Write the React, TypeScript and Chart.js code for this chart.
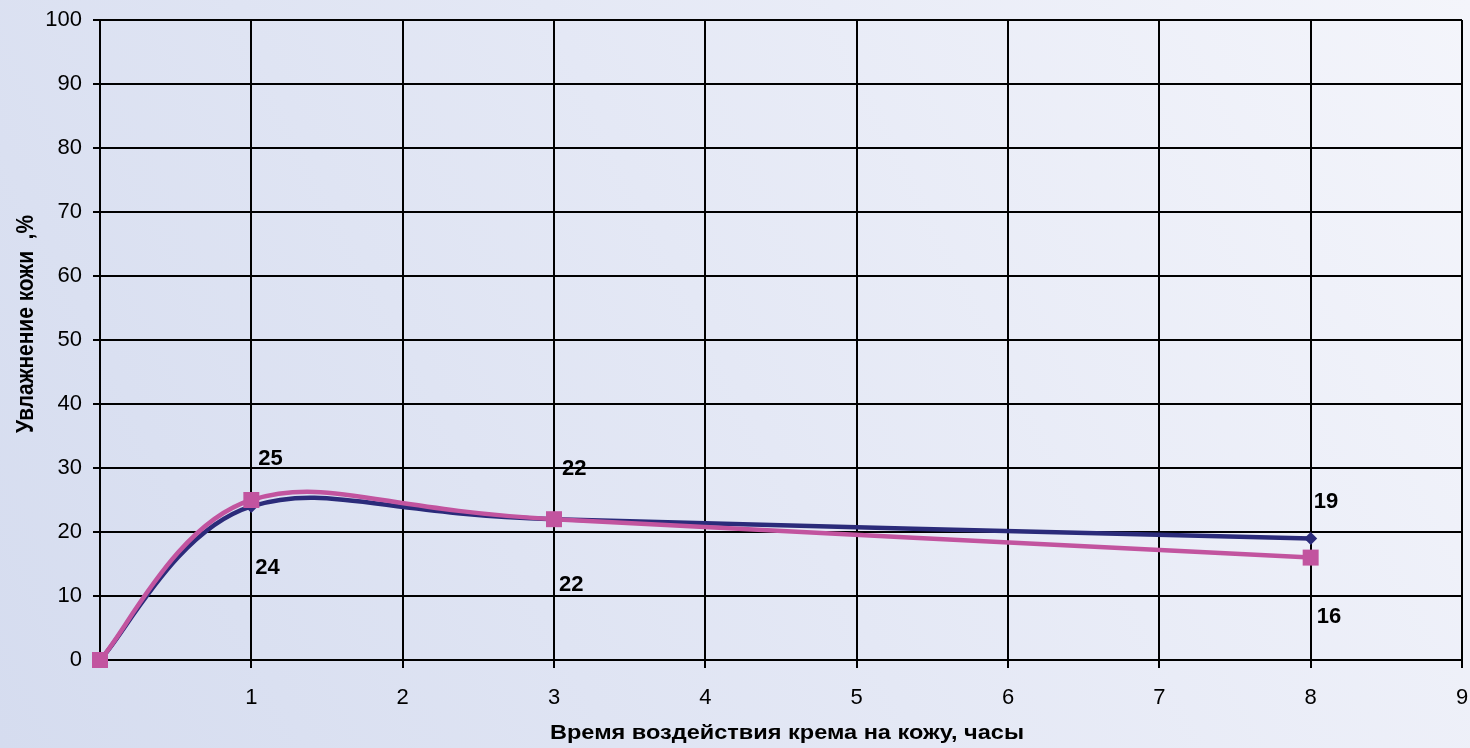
import React, { useEffect, useRef } from "react";
import { Chart, registerables } from "chart.js";

Chart.register(...registerables);

// ---- data ----
const hours = [0, 1, 3, 8];
const seriesA = [0, 24, 22, 19]; // navy, diamonds
const seriesB = [0, 25, 22, 16]; // pink, squares
const xTickMax = 9;
const yTickMax = 100;
const xTitle = "Время воздействия крема на кожу, часы";
const yTitle = "Увлажнение кожи  ,%";

// label placement (style): pixel offsets relative to each point, null = no label
const labelOffsetsA: (number[] | null)[] = [null, [4, 62], [5, 66], [3, -36]];
const labelOffsetsB: (number[] | null)[] = [null, [7, -41], [8, -50], [6, 59]];

const FONT = "'Liberation Sans', Arial, sans-serif";

const bgPlugin = {
  id: "bg",
  beforeDraw(chart: any) {
    const { ctx, width, height } = chart;
    const g = ctx.createLinearGradient(0, height, width, 0);
    g.addColorStop(0, "#d5dcef");
    g.addColorStop(0.5, "#e4e8f5");
    g.addColorStop(1, "#f4f5fb");
    ctx.save();
    ctx.fillStyle = g;
    ctx.fillRect(0, 0, width, height);
    ctx.restore();
  },
};

// Excel-like smoothing: Catmull-Rom control points (1/6 of neighbour chord) in pixel space
const smoothPlugin = {
  id: "excelSmooth",
  beforeDatasetDraw(chart: any, args: any) {
    const meta = chart.getDatasetMeta(args.index);
    const line = meta.dataset;
    if (line && line.updateControlPoints) line.updateControlPoints(chart.chartArea, "x");
    const pts = meta.data;
    const n = pts.length;
    for (let i = 0; i < n; i++) {
      const p = pts[i];
      const prev = pts[Math.max(0, i - 1)];
      const next = pts[Math.min(n - 1, i + 1)];
      const dx = (next.x - prev.x) / 6;
      const dy = (next.y - prev.y) / 6;
      p.cp1x = p.x - dx;
      p.cp1y = p.y - dy;
      p.cp2x = p.x + dx;
      p.cp2y = p.y + dy;
    }
    if (line) line._path = undefined;
  },
};

const labelPlugin = {
  id: "valLabels",
  afterDatasetsDraw(chart: any) {
    const { ctx } = chart;
    ctx.save();
    ctx.font = `bold 22px ${FONT}`;
    ctx.fillStyle = "#000";
    ctx.textAlign = "left";
    ctx.textBaseline = "middle";
    chart.data.datasets.forEach((ds: any, di: number) => {
      const meta = chart.getDatasetMeta(di);
      const offs = ds.labelOffsets as (number[] | null)[];
      meta.data.forEach((pt: any, i: number) => {
        const o = offs[i];
        if (!o) return;
        ctx.fillText(String(ds.data[i].y), pt.x + o[0], pt.y + o[1]);
      });
    });
    ctx.restore();
  },
};

// axis titles (drawn slightly stretched, as in the source picture)
const titlePlugin = {
  id: "axisTitles",
  afterDraw(chart: any) {
    const { ctx, chartArea } = chart;
    ctx.save();
    ctx.fillStyle = "#000";
    ctx.font = `bold 20px ${FONT}`;
    ctx.textAlign = "center";
    ctx.textBaseline = "alphabetic";
    // x title
    const wx = ctx.measureText(xTitle).width;
    ctx.save();
    ctx.translate((chartArea.left + chartArea.right) / 2 + 6, 739);
    ctx.scale(474 / wx, 1);
    ctx.fillText(xTitle, 0, 0);
    ctx.restore();
    // y title
    const wy = ctx.measureText(yTitle).width;
    ctx.save();
    ctx.translate(33, 324);
    ctx.rotate(-Math.PI / 2);
    ctx.scale(218 / wy, 1.2);
    ctx.fillText(yTitle, 0, 0);
    ctx.restore();
    ctx.restore();
  },
};

export default function App() {
  const ref = useRef<HTMLCanvasElement>(null);
  useEffect(() => {
    document.body.style.margin = "0";
    const chart = new Chart(ref.current!, {
      type: "line",
      data: {
        datasets: [
          {
            label: "A",
            data: hours.map((h, i) => ({ x: h, y: seriesA[i] })),
            borderColor: "#2b2b7a",
            backgroundColor: "#2b2b7a",
            borderWidth: 4.5,
            tension: 0.4,
            pointStyle: "rectRot",
            pointRadius: 6.5,
            pointBorderWidth: 0,
            clip: false,
            order: 2,
            labelOffsets: labelOffsetsA,
          } as any,
          {
            label: "B",
            data: hours.map((h, i) => ({ x: h, y: seriesB[i] })),
            borderColor: "#c2549f",
            backgroundColor: "#c2549f",
            borderWidth: 4.5,
            tension: 0.4,
            pointStyle: "rect",
            pointRadius: 11.3,
            pointBorderWidth: 0,
            clip: false,
            order: 1,
            labelOffsets: labelOffsetsB,
          } as any,
        ],
      },
      options: {
        animation: false,
        responsive: false,
        layout: { autoPadding: false, padding: { top: 20, right: 8, left: 0, bottom: 0 } },
        plugins: { legend: { display: false }, tooltip: { enabled: false } },
        scales: {
          x: {
            type: "linear",
            min: 0,
            max: xTickMax,
            afterFit(s: any) {
              s.height = 88;
              s.paddingLeft = 0;
              s.paddingRight = 0;
            },
            ticks: {
              stepSize: 1,
              color: "#000",
              font: { family: FONT, size: 22 },
              padding: 17,
              callback: (v: any) => (v === 0 ? "" : String(v)),
            },
            grid: { color: "#000", lineWidth: 2, tickLength: 8, tickColor: "#000" },
            border: { color: "#000", width: 2 },
            title: { display: false, text: xTitle },
          },
          y: {
            min: 0,
            max: yTickMax,
            afterFit(s: any) {
              s.width = 100;
              s.paddingTop = 0;
              s.paddingBottom = 0;
            },
            ticks: {
              stepSize: 10,
              color: "#000",
              font: { family: FONT, size: 22 },
              padding: 11,
            },
            grid: { color: "#000", lineWidth: 2, tickLength: 7, tickColor: "#000" },
            border: { color: "#000", width: 2 },
            title: { display: false, text: yTitle },
          },
        },
      } as any,
      plugins: [bgPlugin, smoothPlugin, labelPlugin, titlePlugin],
    });
    return () => chart.destroy();
  }, []);
  return (
    <div style={{ width: 1470, height: 748 }}>
      <canvas ref={ref} width={1470} height={748} style={{ display: "block" }} />
    </div>
  );
}
